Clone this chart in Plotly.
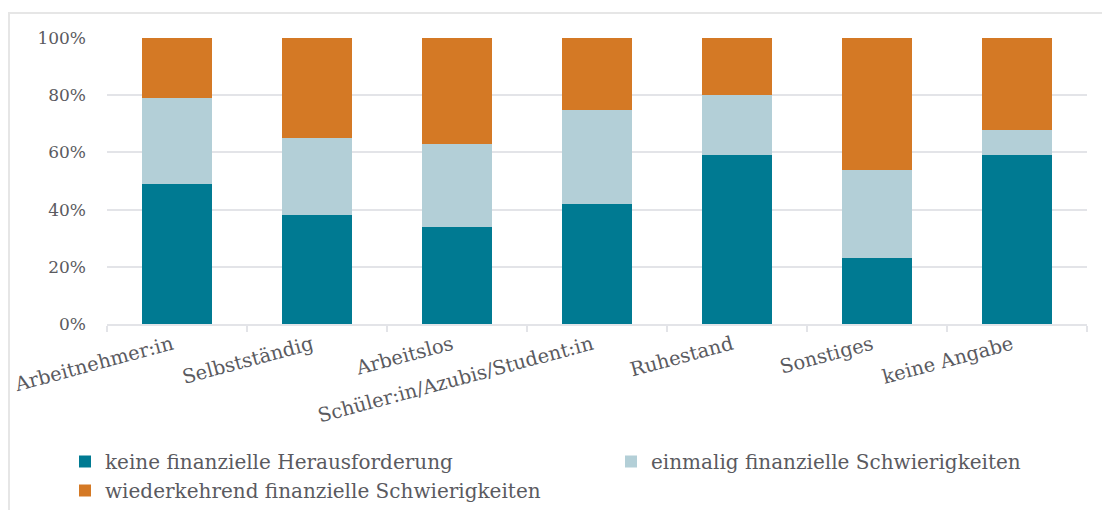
import plotly.graph_objects as go

categories = ["Arbeitnehmer:in", "Selbstständig", "Arbeitslos", "Schüler:in/Azubis/Student:in",
              "Ruhestand", "Sonstiges", "keine Angabe"]
keine = [49, 38, 34, 42, 59, 23, 59]
einmalig = [30, 27, 29, 33, 21, 31, 9]
wiederkehrend = [21, 35, 37, 25, 20, 46, 32]
y_ticks = [0, 20, 40, 60, 80, 100]
y_tick_text = ["0%", "20%", "40%", "60%", "80%", "100%"]

series_names = ["keine finanzielle Herausforderung", "einmalig finanzielle Schwierigkeiten",
                "wiederkehrend finanzielle Schwierigkeiten"]
colors = ["#007A92", "#B3CFD7", "#D47925"]
legend_ids = ["legend", "legend2", "legend"]

FONT = "DejaVu Serif"
TXT = "#5A5A60"
GRID = "#E3E4E8"

fig = go.Figure()
for name, vals, col, lg in zip(series_names, [keine, einmalig, wiederkehrend], colors, legend_ids):
    fig.add_trace(go.Bar(x=categories, y=vals, name=name, legend=lg,
                         marker=dict(color=col, line=dict(width=0))))

# page body has an 8px default margin: figure coords = screen coords - 8
OFF = 8
W, H = 1110, 510
plot_left, plot_right, plot_top, plot_bottom = 107, 1087, 38, 324  # screen px
ml = plot_left - OFF
mt = plot_top - OFF
pw = plot_right - plot_left
ph = plot_bottom - plot_top
mr = W - ml - pw
mb = H - mt - ph

def sx(px):
    return (px - plot_left) / pw

def sy(py):
    return (plot_bottom - py) / ph

legend_common = dict(orientation="v", xanchor="left", yanchor="top",
                     font=dict(family=FONT, size=20, color=TXT),
                     traceorder="normal", itemwidth=30, tracegroupgap=0,
                     bgcolor="rgba(0,0,0,0)")

fig.update_layout(
    width=W, height=H,
    margin=dict(l=ml, r=mr, t=mt, b=mb, autoexpand=False),
    barmode="stack", bargap=0.5,
    plot_bgcolor="white", paper_bgcolor="white",
    font=dict(family=FONT, color=TXT, size=17),
    showlegend=True,
    legend=dict(x=sx(65), y=sy(442), **legend_common),
    legend2=dict(x=sx(611), y=sy(442), **legend_common),
    xaxis=dict(tickmode="array", tickvals=categories, ticktext=categories, automargin=False,
               tickangle=-15, showgrid=False, showline=True, linecolor=GRID, linewidth=2,
               ticks="outside", tickson="boundaries", ticklen=6, tickcolor=GRID, tickwidth=2,
               ticklabelshift=-5,
               tickfont=dict(family=FONT, size=19.5, color=TXT)),
    yaxis=dict(range=[0, 100], tickmode="array", tickvals=y_ticks, ticktext=y_tick_text,
               automargin=False,
               showgrid=True, gridcolor=GRID, gridwidth=2, zeroline=False,
               showline=False, ticks="", ticklabelstandoff=20,
               tickfont=dict(family=FONT, size=17, color=TXT)),
    shapes=[dict(type="rect", xref="paper", yref="paper",
                 x0=sx(9), x1=sx(1300), y0=sy(700), y1=sy(13),
                 line=dict(color="#E6E6E6", width=2), fillcolor="rgba(0,0,0,0)", layer="below")],
)

fig.write_html("out.html")
